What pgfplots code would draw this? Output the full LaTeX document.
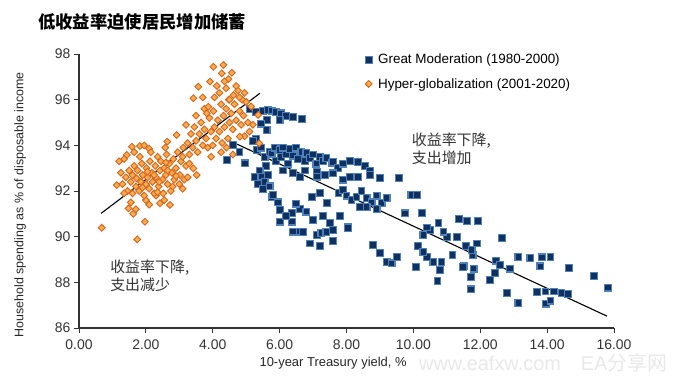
\documentclass[border=0pt]{standalone}
\usepackage{pgfplots}
\pgfplotsset{compat=1.18}
\usepackage{fontspec}
\setmainfont{Liberation Sans}
\newfontfamily\cjk{Noto Sans CJK SC}
\definecolor{bfill}{HTML}{10315F}
\definecolor{bedge}{HTML}{4F81BD}
\definecolor{ofill}{HTML}{F8AC4E}
\definecolor{oedge}{HTML}{D8661E}
\begin{document}
\begin{tikzpicture}
\path[use as bounding box] (0bp,0bp) rectangle (681bp,-379bp);
\node[anchor=west, inner sep=0pt, font=\cjk\bfseries\fontsize{17.4}{20}\selectfont] at (38bp,-22bp) {低收益率迫使居民增加储蓄};
\node[anchor=west, inner sep=0pt, text=gray!18, font=\fontsize{20}{22}\selectfont] at (419bp,-363bp) {www.eafxw.com\quad EA{\cjk 分享网}};
\begin{axis}[
  at={(79bp,-328bp)}, anchor=south west, scale only axis,
  width=535bp, height=274bp,
  xmin=0, xmax=16, ymin=86, ymax=98,
  axis lines*=left,
  axis line style={black!80, line width=1.1bp},
  tick align=outside, major tick length=5bp,
  tick style={black!80, line width=1bp},
  xtick={0,2,...,16}, ytick={86,88,...,98},
  /pgf/number format/assume math mode=true,
  xticklabel style={/pgf/number format/.cd, fixed, fixed zerofill, precision=2, /tikz/.cd, yshift=-3bp},
  ticklabel style={font=\fontsize{14}{16}\selectfont, text=black!80},
  xlabel={10-year Treasury yield, \%},
  ylabel={Household spending as \% of disposable income},
  xlabel style={font=\fontsize{13}{15}\selectfont, text=black!85, at={(axis description cs:0.475,-0.13)}, anchor=center},
  ylabel style={font=\fontsize{12.5}{15}\selectfont, text=black!85, at={(axis description cs:-0.11,0.45)}, anchor=center},
  legend style={draw=none, fill=none, at={(axis description cs:0.531,1.015)}, anchor=north west,
    font=\fontsize{13.5}{16}\selectfont, row sep=9bp, inner sep=2bp,
    column sep=4bp},
  legend cell align=left,
  clip=false,
]
\addplot[only marks, mark=square*, mark size=3.4bp, mark options={fill=bfill, draw=bedge, line width=1.1bp}] coordinates {
(5.11,95.58)(5.30,95.45)(5.50,95.5)(5.65,95.55)(5.76,95.52)(5.90,95.45)(6.05,95.4)(6.20,95.3)(6.40,95.25)(6.66,95.14)(5.63,95.1)(5.45,94.95)(5.61,94.67)(5.30,94.27)(5.20,94.2)(6.0,95.1)
(4.42,93.36)(4.96,93.21)(4.80,93.7)(4.60,94.0)
(5.31,93.8)(5.45,93.9)(5.55,93.5)(5.60,93.1)(5.70,93.7)(5.76,93.64)(5.85,93.9)(5.90,93.3)(6.00,93.8)(6.05,93.5)(6.10,93.9)(6.20,93.6)(6.25,93.2)(6.30,93.85)(6.40,93.55)(6.50,93.9)(6.55,93.4)(6.65,93.7)(6.75,93.3)(6.80,93.65)(6.90,93.45)(7.00,93.6)(7.10,93.2)(7.20,93.5)(7.30,93.3)(7.40,93.45)(7.55,93.21)(7.6,93.28)(7.75,93.0)(7.9,93.2)(8.1,93.3)(8.35,93.28)(8.55,93.1)(8.7,92.9)
(5.40,92.9)(5.46,92.63)(5.55,92.4)(5.65,92.7)(5.35,92.3)(5.50,92.1)(5.25,92.6)(5.76,91.75)(5.81,91.82)(5.70,92.2)
(6.10,92.9)(6.40,92.8)(6.60,92.6)(6.75,92.9)(7.11,92.84)(7.11,92.63)(7.35,92.7)(7.6,92.77)(7.9,92.5)(8.1,92.6)(8.35,92.6)(9.0,92.56)(8.7,92.7)(9.58,92.58)
(7.76,91.9)(7.9,92.04)(8.0,91.8)(8.15,91.6)(8.3,91.75)(8.45,92.0)(8.6,91.7)(8.75,91.5)(8.9,91.8)(9.05,91.46)(9.2,91.7)(8.4,91.3)(8.6,91.3)(8.9,91.2)(7.41,91.46)(6.96,91.75)(7.2,91.9)(9.94,91.82)(10.1,91.82)(9.75,91.02)(10.25,91.05)
(6.01,91.17)(6.01,90.66)(6.36,91.03)(6.36,90.66)(6.61,90.22)(6.7,90.2)(6.6,91.2)(6.8,91.1)(7.0,90.73)(7.11,90.07)(7.25,90.15)(7.4,90.2)(7.5,90.6)(7.3,90.9)(7.6,90.3)(8.05,90.43)(6.41,90.22)(6.2,90.9)(7.8,90.9)(6.9,89.7)(7.2,89.6)(7.6,89.8)(8.05,90.37)(5.95,91.5)(6.5,91.45)
(8.8,89.63)(9.2,88.9)(9.35,88.83)(9.0,89.3)(9.5,89.1)(10.3,90.07)(10.5,90.3)(10.75,90.6)(11.0,90.0)(10.84,88.9)(10.6,88.9)(10.4,89.1)(10.8,88.54)(10.14,89.6)(10.3,89.34)(10.08,88.68)(10.4,90.4)(10.9,90.22)(10.72,88.07)(11.17,89.2)
(11.37,90.76)(11.6,90.7)(11.94,90.7)(11.3,90.0)(11.58,89.6)(11.77,89.2)(11.74,89.42)(11.51,88.71)(11.8,88.6)(11.72,88.22)(11.72,87.69)(11.49,88.68)(11.9,89.7)
(12.64,89.93)(12.47,88.95)(12.6,88.75)(12.44,88.4)(12.79,87.52)(13.14,87.11)(13.14,89.12)(13.5,89.07)(13.84,89.09)(14.1,89.1)(13.8,88.7)(13.69,87.59)(13.95,87.6)(14.2,87.6)(14.43,87.52)(14.63,87.5)(13.96,87.07)(14.1,87.2)(14.66,88.64)(15.41,88.29)(15.83,87.77)(12.3,88.1)(12.9,88.6)
};
\addlegendentry{Great Moderation (1980-2000)}
\addplot[only marks, mark=square*, mark size=2.4bp, mark options={rotate=45, fill=ofill, draw=oedge, line width=0.9bp}] coordinates {
(0.68,90.39)(1.74,89.88)(1.97,90.65)(1.13,92.26)(1.48,91.24)(1.55,91.5)(2.72,91.39)(2.42,91.46)(2.55,91.6)(2.10,91.4)(2.30,91.8)(1.62,91.0)(1.70,91.2)(2.00,91.6)
(1.43,93.58)(1.58,93.94)(1.82,93.97)(1.82,93.5)(1.35,93.4)(1.65,93.7)(2.10,93.85)(2.64,94.16)(2.92,94.45)(1.95,94.0)(1.20,93.3)(2.15,93.7)(2.58,93.9)
(1.30,92.3)(1.40,92.6)(1.45,92.0)(1.50,92.9)(1.55,92.4)(1.60,92.7)(1.60,91.9)(1.65,93.1)(1.70,92.2)(1.72,92.55)(1.75,92.9)(1.80,92.0)(1.85,92.4)(1.88,93.2)(1.90,92.7)(1.95,91.8)(2.00,92.3)(2.02,93.0)(2.05,92.6)(2.10,92.1)(2.12,93.3)(2.18,92.8)(2.20,92.4)(2.25,91.9)(2.28,93.1)(2.30,92.6)(2.35,93.5)(2.38,92.2)(2.42,92.9)(2.45,93.3)(2.50,92.5)(2.52,91.9)(2.55,93.0)(2.60,92.7)(2.62,93.6)(2.65,92.3)(2.70,93.2)(2.75,92.0)(2.78,92.8)(2.82,93.4)(2.85,92.5)(2.90,93.0)(2.95,93.7)(3.00,92.3)(3.02,92.7)(3.05,93.3)(3.10,92.1)(3.12,93.9)(3.15,92.5)(3.20,93.1)(1.35,91.9)(1.25,92.8)
(2.25,92.7)(2.40,92.4)(2.65,92.9)(2.80,92.2)(2.35,91.95)(1.90,92.15)(2.05,92.85)(2.60,93.25)(2.90,92.65)(3.10,93.5)(3.30,93.2)(3.42,92.99)(3.52,92.7)(3.25,92.6)
(3.25,94.1)(3.30,93.6)(3.35,94.5)(3.40,93.9)(3.45,94.8)(3.50,94.2)(3.55,93.7)(3.60,94.5)(3.65,95.0)(3.70,94.0)(3.75,94.7)(3.80,94.3)(3.85,93.9)(3.90,95.2)(3.95,94.6)(4.00,94.0)(4.02,95.5)(4.05,94.8)(4.10,94.3)(4.15,95.1)(4.20,94.6)(4.25,95.8)(4.28,94.1)(4.32,95.3)(4.35,94.8)(4.40,95.6)(4.45,94.3)(4.48,96.0)(4.50,95.0)(4.55,95.4)(4.60,94.7)(4.62,96.2)(4.65,95.8)(4.70,95.1)(4.75,96.4)(4.80,95.5)(4.85,94.9)(4.88,96.0)(4.92,95.3)(4.95,94.4)(5.00,95.9)(5.05,95.0)(5.10,94.6)(5.15,95.7)(3.50,95.3)(3.75,95.6)(3.20,94.9)(4.60,93.6)(4.41,93.9)(4.81,94.38)(5.20,94.9)(5.36,95.33)(5.39,94.09)(4.25,93.7)(3.95,93.5)
(3.42,96.06)(3.57,96.57)(4.02,97.44)(4.32,97.52)(4.27,97.15)(4.57,97.18)(4.47,96.9)(3.92,96.79)(4.12,96.6)(3.87,95.69)(3.82,95.4)(4.20,96.3)(4.40,96.5)(4.50,96.0)(4.70,96.6)(4.80,96.1)(4.95,96.3)(4.35,96.8)(3.70,96.1)(4.05,96.1)
};
\addlegendentry{Hyper-globalization (2001-2020)}
\addplot[forget plot, black, line width=1.1bp] coordinates {(0.66,91.02)(5.41,96.28)};
\addplot[forget plot, black, line width=1.1bp] coordinates {(4.42,94.26)(15.79,86.52)};
\node[anchor=west, align=left, inner sep=0pt, text=black!80, font=\cjk\fontsize{15}{18}\selectfont] at (axis cs:9.95,93.84) {收益率下降,\\支出增加};
\node[anchor=west, align=left, inner sep=0pt, text=black!80, font=\cjk\fontsize{15}{18}\selectfont] at (axis cs:0.93,88.28) {收益率下降,\\支出减少};
\end{axis}
\end{tikzpicture}
\end{document}
